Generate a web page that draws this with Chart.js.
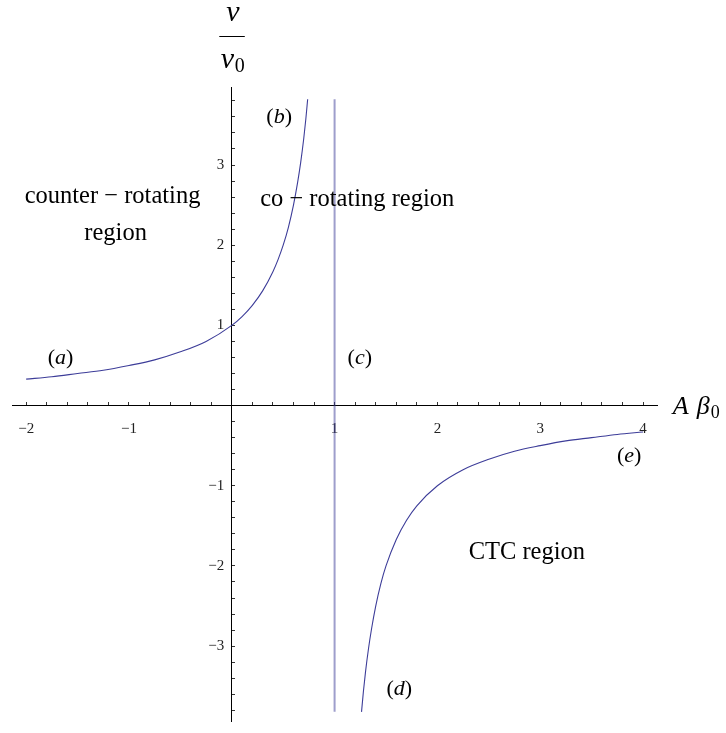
<!DOCTYPE html>
<html>
<head>
<meta charset="utf-8">
<script src="https://cdn.jsdelivr.net/npm/chart.js@4.4.1/dist/chart.umd.min.js"></script>
<style>
html, body { margin: 0; padding: 0; background: #fff; overflow: hidden; }
#wrap { position: relative; width: 726px; height: 733px; }
</style>
</head>
<body>
<div id="wrap"><canvas id="plot"></canvas></div>
<script>
// branch (a) -> (b)
const leftX = [-2, -1.75, -1.5, -1.25, -1, -0.75, -0.5, -0.25, 0, 0.1, 0.2, 0.3, 0.4, 0.45, 0.5, 0.55, 0.6, 0.64, 0.67, 0.7, 0.72, 0.738];
const leftY = [0.33, 0.36, 0.40, 0.44, 0.50, 0.57, 0.67, 0.80, 1.00, 1.11, 1.25, 1.43, 1.67, 1.82, 2.00, 2.22, 2.50, 2.78, 3.03, 3.33, 3.57, 3.82];
// branch (d) -> (e)
const rightX = [1.262, 1.28, 1.30, 1.33, 1.36, 1.40, 1.45, 1.5, 1.6, 1.7, 1.8, 2.0, 2.25, 2.5, 2.75, 3.0, 3.25, 3.5, 3.75, 4.0];
const rightY = [-3.82, -3.57, -3.33, -3.03, -2.78, -2.50, -2.22, -2.00, -1.67, -1.43, -1.25, -1.00, -0.80, -0.67, -0.57, -0.50, -0.44, -0.40, -0.36, -0.33];
// line (c) at A beta0 = 1
const poleX = [1, 1];
const poleY = [-3.82, 3.82];
// labelled ticks, minor ticks every 0.2
const xTickLabels = [-2, -1, 1, 2, 3, 4];
const yTickLabels = [-3, -2, -1, 1, 2, 3];

const serif = "'Liberation Serif', 'DejaVu Serif', serif";
const curveColor = "rgb(61, 61, 153)";

function pts(xs, ys){
    return xs.map((x, i) => ({x: x, y: ys[i]}));
}
function tickText(v, marks){
    const r = Math.round(v);
    if(Math.abs(v - r) > 1e-6 || !marks.includes(r)) return "";
    return r < 0 ? "\u2212" + Math.abs(r) : String(r);
}

// region texts and curve tags, placed in data coordinates (baseline centre)
const notes = [
    {parts: [["counter \u2212 rotating", ""]], x: -1.16, y: 2.53, size: 24.5},
    {parts: [["region", ""]], x: -1.13, y: 2.06, size: 24.5},
    {parts: [["co \u2212 rotating region", ""]], x: 1.22, y: 2.49, size: 24.5},
    {parts: [["CTC region", ""]], x: 2.87, y: -1.91, size: 24.5},
    {parts: [["(", ""], ["a", "italic "], [")", ""]], x: -1.666, y: 0.52, size: 22},
    {parts: [["(", ""], ["b", "italic "], [")", ""]], x: 0.461, y: 3.53, size: 22},
    {parts: [["(", ""], ["c", "italic "], [")", ""]], x: 1.245, y: 0.52, size: 22},
    {parts: [["(", ""], ["d", "italic "], [")", ""]], x: 1.63, y: -3.61, size: 22},
    {parts: [["(", ""], ["e", "italic "], [")", ""]], x: 3.866, y: -0.70, size: 22}
];

function drawParts(ctx, parts, size, cx, by){
    let total = 0;
    parts.forEach(p => { ctx.font = p[1] + size + "px " + serif; total += ctx.measureText(p[0]).width; });
    let x = cx - total/2;
    parts.forEach(p => {
        ctx.font = p[1] + size + "px " + serif;
        ctx.fillText(p[0], x, by);
        x += ctx.measureText(p[0]).width;
    });
}

const textPlugin = {
    id: "texts",
    afterDraw(chart){
        const ctx = chart.ctx;
        const sx = chart.scales.x, sy = chart.scales.y;
        ctx.save();
        ctx.fillStyle = "#000";
        ctx.textAlign = "left";
        ctx.textBaseline = "alphabetic";
        notes.forEach(n => drawParts(ctx, n.parts, n.size, sx.getPixelForValue(n.x), sy.getPixelForValue(n.y)));

        // horizontal axis label  A beta_0
        let lx = sx.getPixelForValue(4.29);
        const ly = sy.getPixelForValue(-0.10);
        ctx.font = "italic 26px " + serif;
        ctx.fillText("A", lx, ly);
        lx += ctx.measureText("A").width + 8;
        ctx.fillText("\u03B2", lx, ly);
        lx += ctx.measureText("\u03B2").width + 1;
        ctx.font = "18px " + serif;
        ctx.fillText("0", lx, ly + 4);

        // vertical axis label  v / v_0
        const cx = sx.getPixelForValue(0);
        ctx.textAlign = "center";
        ctx.font = "italic 30px " + serif;
        ctx.fillText("v", cx + 1, sy.getPixelForValue(4.79));
        const bar = Math.round(sy.getPixelForValue(4.61)) + 0.5;
        ctx.strokeStyle = "#000";
        ctx.lineWidth = 1;
        ctx.beginPath();
        ctx.moveTo(cx - 12.5, bar);
        ctx.lineTo(cx + 13, bar);
        ctx.stroke();
        ctx.textAlign = "left";
        const vb = sy.getPixelForValue(4.21);
        ctx.fillText("v", cx - 11, vb);
        ctx.font = "20px " + serif;
        ctx.fillText("0", cx + 3, vb + 4);
        ctx.restore();
    }
};

const ctx = document.getElementById("plot");
new Chart(ctx, {
    type: "line",
    data: {
        datasets: [{
            data: pts(leftX, leftY),
            borderColor: curveColor,
            borderWidth: 1.1,
            pointRadius: 0,
            cubicInterpolationMode: "monotone",
            fill: false
        },{
            data: pts(rightX, rightY),
            borderColor: curveColor,
            borderWidth: 1.1,
            pointRadius: 0,
            cubicInterpolationMode: "monotone",
            fill: false
        },{
            data: pts(poleX, poleY),
            borderColor: "rgba(61, 61, 153, 0.5)",
            borderWidth: 2,
            pointRadius: 0,
            fill: false
        }]
    },
    options: {
        responsive: true,
        maintainAspectRatio: false,
        animation: false,
        layout: {
            autoPadding: false,
            padding: {left: 9, right: 69, top: 87, bottom: 0}
        },
        plugins: {
            legend: {display: false},
            tooltip: {enabled: false}
        },
        scales: {
            x: {
                type: "linear",
                min: -2.1306,
                max: 4.136,
                position: {y: 0},
                afterFit: s => { s.height = 0; },
                border: {display: true, color: "#000", width: 1},
                grid: {drawOnChartArea: false, drawTicks: true, tickLength: -4, color: "#333", tickColor: "#333"},
                ticks: {
                    stepSize: 0.2,
                    autoSkip: false,
                    includeBounds: false,
                    maxRotation: 0,
                    maxTicksLimit: 100,
                    padding: 18,
                    color: "#222",
                    font: {family: serif, size: 15},
                    callback: v => tickText(v, xTickLabels)
                }
            },
            y: {
                type: "linear",
                min: -3.934,
                max: 3.973,
                position: {x: 0},
                afterFit: s => { s.width = 0; },
                border: {display: true, color: "#000", width: 1},
                grid: {drawOnChartArea: false, drawTicks: true, tickLength: -4, color: "#333", tickColor: "#333"},
                ticks: {
                    stepSize: 0.2,
                    autoSkip: false,
                    includeBounds: false,
                    maxTicksLimit: 100,
                    color: "#222",
                    font: {family: serif, size: 15},
                    callback: v => {
                        const t = tickText(v, yTickLabels);
                        return t ? t + "  " : "";
                    }
                }
            }
        }
    },
    plugins: [textPlugin]
});
</script>
</body>
</html>
